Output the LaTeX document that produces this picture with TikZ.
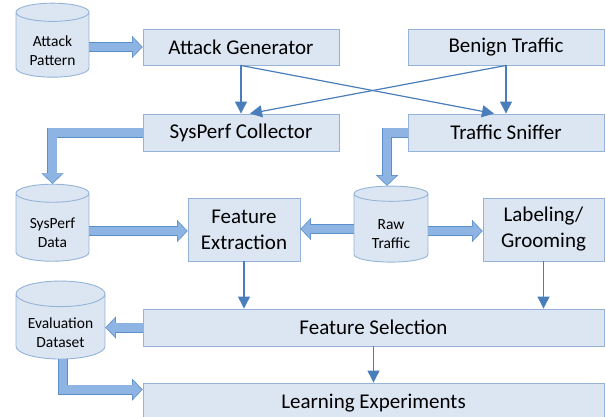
\documentclass[tikz,border=0pt]{standalone}
\usepackage{fontspec}
\setmainfont{Carlito}
\usetikzlibrary{shapes.geometric,arrows.meta,calc}
\definecolor{boxfill}{HTML}{DCE6F2}
\definecolor{boxline}{HTML}{95B3D7}
\definecolor{thinblue}{HTML}{4A7EBB}
\definecolor{fatfill}{HTML}{8EB4E3}
\definecolor{fatline}{HTML}{5B8FCB}
% two lines of text, set a little below the middle of a data store
\newcommand{\storetext}[2]{\raisebox{-6pt}[\height][\depth]{\begin{tabular}{@{}c@{}}#1\\#2\end{tabular}}}
\begin{document}
\begin{tikzpicture}[x=1pt, y=1pt,
        box/.style={draw=boxline, fill=boxfill, line width=0.9pt, inner sep=2pt,
                    align=center, font=\fontsize{21}{26}\selectfont},
        store/.style={cylinder, shape border rotate=90, aspect=0.38, draw=boxline,
                    fill=boxfill, line width=0.9pt, inner sep=1pt,
                    font=\fontsize{15.5}{19}\selectfont},
        flow/.style={draw=thinblue, line width=1.2pt,
                    -{Triangle[length=12pt, width=12pt]}},
        fatout/.style={draw=fatline, line width=10pt,
                    -{Triangle[length=10.5pt, width=22pt, line width=0.01pt]}},
        fatin/.style={draw=fatfill, line width=8.4pt, shorten >=1.05pt,
                    -{Triangle[length=8.7pt, width=18.2pt, line width=0.01pt]}}]
      \useasboundingbox (0,0) rectangle (606,-416);
      % boxes
      \node[box, minimum width=196pt, minimum height=36pt] (gen)    at (241,-47)    {Attack Generator};
      \node[box, minimum width=196pt, minimum height=36pt] (benign) at (506,-47)    {Benign Traffic};
      \node[box, minimum width=196pt, minimum height=37pt] (coll)   at (241,-132.5) {SysPerf Collector};
      \node[box, minimum width=196pt, minimum height=37pt] (sniff)  at (506,-132.5) {Traffic Sniffer};
      \node[box, minimum width=112pt, minimum height=63pt] (fext)   at (244,-229.5) {Feature\\Extraction};
      \node[box, minimum width=121pt, minimum height=63pt] (label)  at (543.5,-229.5) {Labeling/\\Grooming};
      \node[box, minimum width=461pt, minimum height=37pt] (fsel)   at (373.5,-327.5) {Feature Selection};
      \node[box, minimum width=461pt, minimum height=40pt] (learn)  at (373.5,-403) {Learning Experiments};
      % data stores
      \node[store, minimum width=73pt, minimum height=74pt] (apat)  at (52.5,-46)   {\storetext{Attack}{Pattern}};
      \node[store, minimum width=73pt, minimum height=77pt] (sdata) at (52.5,-228.5) {\storetext{SysPerf}{Data}};
      \node[store, minimum width=74pt, minimum height=76pt] (raw)   at (391,-229)   {\storetext{Raw}{Traffic}};
      \node[store, minimum width=89pt, minimum height=78pt] (evald) at (60.5,-328)  {\storetext{Evaluation}{Dataset}};
      % fat arrows
      \foreach \st in {fatout, fatin} {
        \draw[\st] (apat.east |- gen.west) -- (gen.west);
        \draw[\st, line join=miter] (coll.west) -| (sdata.north);
        \draw[\st, line join=miter] (sniff.west) -| ($(raw.north)+(-4,0)$);
        \draw[\st] ($(sdata.east)+(0,-2.5)$) -- ($(sdata.east -| fext.west)+(0,-2.5)$);
        \draw[\st] (raw.west) -- (raw.west -| fext.east);
        \draw[\st] ($(raw.east)+(0,-2)$) -- ($(raw.east -| label.west)+(0,-2)$);
        \draw[\st] (fsel.west) -- (fsel.west -| evald.east);
        \draw[\st, line join=miter] ($(evald.south)+(2.5,0)$) |- ($(learn.north west)+(0,-7)$);
      }
      % thin arrows
      \draw[flow] (gen.south) -- (coll.north);
      \draw[flow] (benign.south) -- (sniff.north);
      \draw[flow] (gen.south) -- ($(sniff.north)+(-12,0)$);
      \draw[flow] (benign.south) -- ($(coll.north)+(9,0)$);
      \draw[flow] (fext.south) -- (fext.south |- fsel.north);
      \draw[flow] (label.south) -- (label.south |- fsel.north);
      \draw[flow] (fsel.south) -- (learn.north);
    \end{tikzpicture}
\end{document}
